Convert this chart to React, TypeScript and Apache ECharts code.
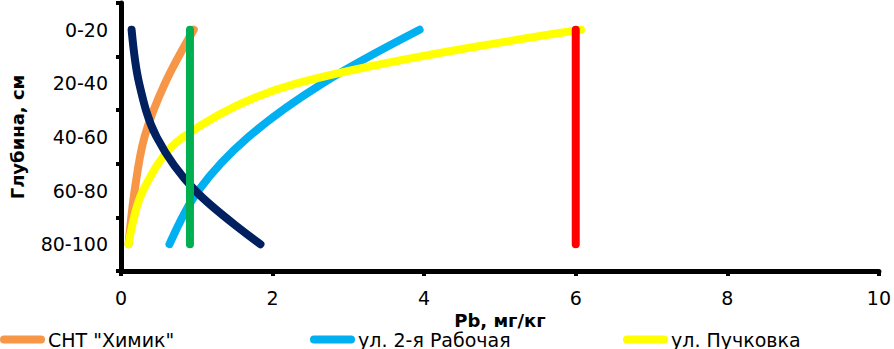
import React, { useEffect, useRef } from "react";
import * as echarts from "echarts";

const depths = ["0-20", "20-40", "40-60", "60-80", "80-100"];
const khimik = [0.96, 0.58, 0.31, 0.18, 0.1];
const rabochaya = [3.94, 2.66, 1.68, 1.02, 0.64];
const puchkovka = [6.07, 2.32, 0.82, 0.29, 0.1];
const series4 = [0.14, 0.24, 0.47, 0.98, 1.84];
const series5 = [0.91, 0.91, 0.91, 0.91, 0.91];
const series6 = [6.0, 6.0, 6.0, 6.0, 6.0];
const xTicks = { min: 0, max: 10, interval: 2 };

const FONT = "DejaVu Sans";
const ICON = "path://M4,0 L41,0 A4,4 0 0 1 41,8 L4,8 A4,4 0 0 1 4,0 Z";

export default function App() {
  const ref = useRef<HTMLDivElement>(null);
  useEffect(() => {
    if (!ref.current) return;
    const chart = echarts.init(ref.current, null, { renderer: "svg" });
    const mk = (name: string, vals: number[], color: string) => ({
      name,
      type: "line",
      data: vals.map((v, i) => [v, depths[i]]),
      smooth: 0.35,
      showSymbol: false,
      symbol: "none",
      lineStyle: { color, width: 8, cap: "round", join: "round" },
      itemStyle: { color },
    });
    const legend = (name: string, left: number) => ({
      data: [name],
      left,
      top: 330,
      padding: 0,
      icon: ICON,
      itemWidth: 45,
      itemHeight: 8,
      itemGap: 3,
      textStyle: { fontFamily: FONT, fontSize: 19, color: "#000", lineHeight: 19, padding: [0, 0, 0, -2] },
    });
    chart.setOption({
      animation: false,
      backgroundColor: "#fff",
      grid: { left: 114, right: 12, top: 3, bottom: 78, containLabel: false },
      legend: [
        legend('СНТ "Химик"', 0),
        legend("ул. 2-я Рабочая", 310),
        legend("ул. Пучковка", 623),
      ],
      xAxis: {
        type: "value",
        min: xTicks.min,
        max: xTicks.max,
        interval: xTicks.interval,
        name: "Pb, мг/кг",
        nameLocation: "middle",
        nameGap: 24,
        nameTextStyle: { fontFamily: FONT, fontSize: 18, fontWeight: "bold", color: "#000", lineHeight: 18 },
        splitLine: { show: false },
        axisLine: { show: true, lineStyle: { color: "#000", width: 5 } },
        axisTick: { show: true, length: 5, lineStyle: { color: "#000", width: 4 } },
        axisLabel: { fontFamily: FONT, fontSize: 19, color: "#000", margin: 17 },
      },
      yAxis: {
        type: "category",
        data: depths,
        inverse: true,
        name: "Глубина, см",
        nameLocation: "middle",
        nameGap: 95,
        nameTextStyle: { fontFamily: FONT, fontSize: 18, fontWeight: "bold", color: "#000" },
        axisLine: { show: true, lineStyle: { color: "#000", width: 5 } },
        axisTick: { show: true, length: 5, lineStyle: { color: "#000", width: 4 } },
        axisLabel: { fontFamily: FONT, fontSize: 19, color: "#000", margin: 13 },
        splitLine: { show: false },
      },
      series: [
        mk('СНТ "Химик"', khimik, "#F79646"),
        mk("ул. 2-я Рабочая", rabochaya, "#00B0F0"),
        mk("ул. Пучковка", puchkovka, "#FFFF00"),
        mk("Ряд4", series4, "#002060"),
        mk("Ряд5", series5, "#00B050"),
        mk("Ряд6", series6, "#FF0000"),
      ],
    });
    return () => chart.dispose();
  }, []);
  return <div ref={ref} style={{ width: 894, height: 349, position: "absolute", left: 0, top: 0 }} />;
}
